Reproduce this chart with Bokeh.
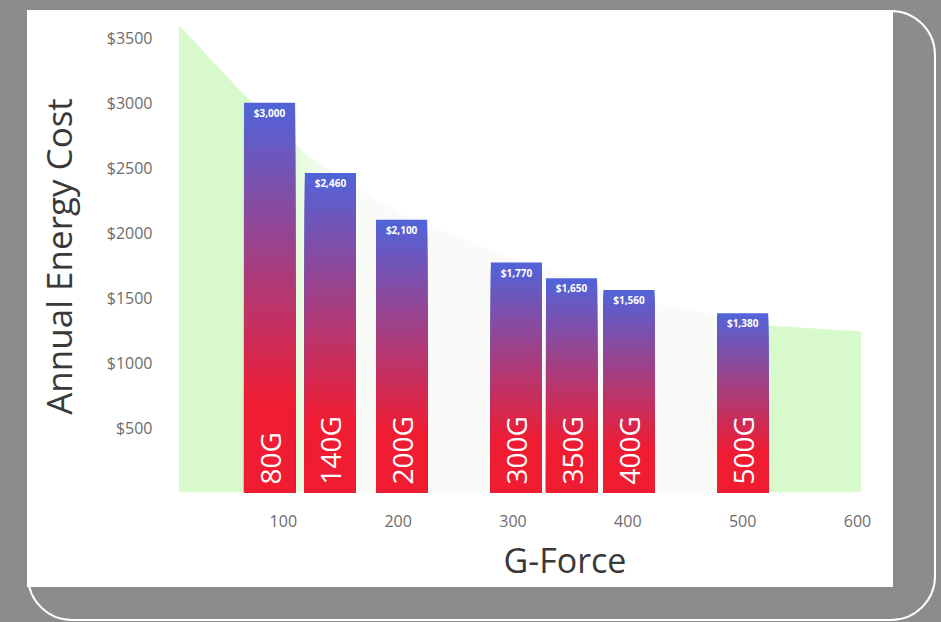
import numpy as np
from bokeh.plotting import figure
from bokeh.layouts import column
from bokeh.models import (FixedTicker, PrintfTickFormatter, Title, Range1d, InlineStyleSheet)
from bokeh.core.properties import value
from bokeh.embed import file_html
from bokeh.resources import INLINE

# ---------------- data ----------------
g_labels = ["80G", "140G", "200G", "300G", "350G", "400G", "500G"]
bar_x = [88, 141, 203, 303, 351, 401, 500]          # G-force position of each bar
annual_cost = [3000, 2460, 2100, 1770, 1650, 1560, 1380]
cost_labels = ["$3,000", "$2,460", "$2,100", "$1,770", "$1,650", "$1,560", "$1,380"]

area_x = [9, 66, 120, 200, 300, 400, 523, 603]      # background (green) area
area_y = [3600, 3060, 2600, 2150, 1800, 1500, 1285, 1240]

y_ticks = [500, 1000, 1500, 2000, 2500, 3000, 3500]
x_ticks = [100, 200, 300, 400, 500, 600]

# ---------------- figure (the white brochure panel) ----------------
GREY = "#8e8b8b"
p = figure(width=866, height=577, x_range=Range1d(0, 607), y_range=Range1d(0, 3634),
           output_backend="svg", toolbar_location=None,
           min_border_left=141, min_border_right=28, min_border_top=10, min_border_bottom=92,
           background_fill_color="white", border_fill_color="white", outline_line_color=None,
           margin=(10, 48, 35, 27), styles={"background-color": "white"})
p.grid.visible = False

# green background area
p.varea(x=area_x, y1=0, y2=area_y, fill_color="#d8f9cb", fill_alpha=1)

# horizontal fade of the area towards the middle (nested light overlays)
n_fade = 12
fade_left = np.linspace(100, 175, n_fade)
fade_right = np.linspace(522, 470, n_fade)
p.quad(left=fade_left, right=fade_right, bottom=0, top=3634,
       fill_color="#ffffff", fill_alpha=0.18, line_color=None)

# gradient bars: blue at the top to red at the bottom, drawn as stacked slices
n_slice = 60
top_rgb = np.array([80, 100, 218])
bot_rgb = np.array([240, 28, 50])
qx, qt, qc = [], [], []
for xc, v in zip(bar_x, annual_cost):
    for j in range(n_slice - 1, -1, -1):
        top = v * (j + 1) / n_slice
        t = 1 - (j + 0.5) / n_slice
        f = min(1.0, t / 0.78)
        c = (1 - f) * top_rgb + f * bot_rgb
        qx.append(xc)
        qt.append(top)
        qc.append("#%02x%02x%02x" % tuple(int(round(k)) for k in c))
p.vbar(x=qx, width=44.5, bottom=0, top=qt, fill_color=qc, line_color=None)

# labels on the bars
p.text(x=bar_x, y=[0] * len(bar_x), text=g_labels, angle=np.pi / 2,
       text_align="left", text_baseline="middle", y_offset=-8,
       text_color="white", text_font=value("Open Sans"), text_font_size="28px")
p.text(x=bar_x, y=annual_cost, text=cost_labels, text_align="center", text_baseline="top",
       y_offset=3, text_color="white", text_font=value("Open Sans"), text_font_size="10px",
       text_font_style="bold")

# axes
for ax in (p.xaxis[0], p.yaxis[0]):
    ax.axis_line_color = None
    ax.major_tick_line_color = None
    ax.minor_tick_line_color = None
    ax.major_label_text_font = "Open Sans"
    ax.major_label_text_font_size = "16px"
    ax.major_label_text_color = "#6e6b6b"

p.yaxis.ticker = FixedTicker(ticks=y_ticks)
p.yaxis.formatter = PrintfTickFormatter(format="$%d")
p.yaxis.major_label_standoff = 10
p.yaxis.axis_label = "Annual Energy Cost"
p.yaxis.axis_label_text_font = "Open Sans"
p.yaxis.axis_label_text_font_size = "35px"
p.yaxis.axis_label_text_font_style = "normal"
p.yaxis.axis_label_text_color = "#3a3838"
p.yaxis.axis_label_standoff = 22

p.xaxis.ticker = FixedTicker(ticks=x_ticks)
p.xaxis.major_label_standoff = 16

p.add_layout(Title(text="G-Force", align="left", offset=335, text_font="Open Sans",
                   text_font_size="34px", text_font_style="normal", text_color="#3a3838"), "below")

# grey photo surround with the rounded white outline of the brochure
outline_css = InlineStyleSheet(css="""
:host { position: relative; }
:host::after {
  content: "";
  position: absolute;
  left: 27px; top: 10px; width: 909px; height: 611px;
  box-sizing: border-box;
  border: 2.5px solid #ffffff;
  border-radius: 45px;
  pointer-events: none;
}
""")
page = column(p, styles={"background-color": GREY}, stylesheets=[outline_css])

open("out.html", "w").write(file_html(page, INLINE))
